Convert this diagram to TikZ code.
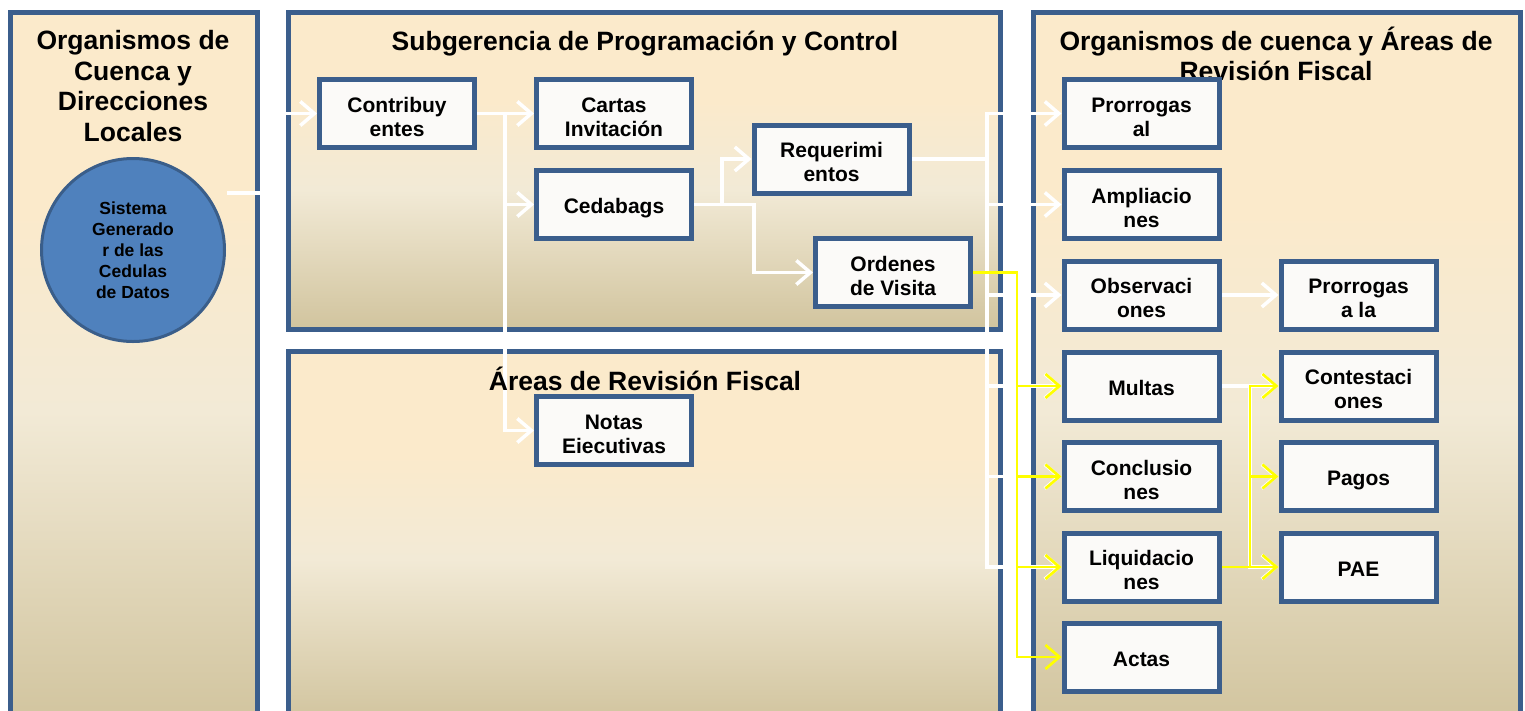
\documentclass[tikz,border=0pt]{standalone}
\usepackage{fontspec}
\setmainfont{Liberation Sans}
\usetikzlibrary{arrows.meta}
\definecolor{bord}{HTML}{3B5E8C}
\definecolor{peachc}{HTML}{FBEACB}
\definecolor{creamc}{HTML}{F2EAD6}
\definecolor{tanc}{HTML}{D1C49E}
\definecolor{boxfill}{HTML}{FBFAF8}
\definecolor{circfill}{HTML}{4F81BD}
\definecolor{circbord}{HTML}{3A5E8A}
\definecolor{yel}{HTML}{FFFF00}
\pgfdeclareverticalshading{parch}{100bp}{color(0bp)=(tanc); color(25bp)=(tanc); color(47bp)=(creamc); color(61bp)=(peachc); color(100bp)=(peachc)}
\pgfdeclarelayer{bg}
\pgfdeclarelayer{conn}
\pgfsetlayers{bg,conn,main}
\newcommand{\bxs}{\rule[-1.5pt]{0pt}{24.5pt}}
\newcommand{\bxd}{\rule[-4pt]{0pt}{4pt}}
\begin{document}
\begin{tikzpicture}[x=1pt,y=-1pt,
  panel/.style={draw=bord,line width=5pt,shading=parch},
  ttl/.style={align=center,inner sep=0pt,font=\bfseries\fontsize{26.5}{30.5}\selectfont},
  bx/.style={draw=bord,line width=5pt,fill=boxfill,minimum width=155pt,minimum height=68pt,inner sep=0pt,align=center,
    font=\bfseries\fontsize{21}{24}\selectfont, execute at end node=\bxs},
  warrow/.style={draw=white,line width=3.5pt,-{Straight Barb[length=14pt,width=24pt]}},
  yarrow/.style={draw=yel,line width=2.7pt,-{Straight Barb[length=14pt,width=24pt]}}]
\useasboundingbox (0,0) rectangle (1525,710);
\begin{pgfonlayer}{bg}
  \fill[white] (0,0) rectangle (1525,710);
  \path[panel] (10,12) rectangle (257,725);
  \path[panel] (288.5,12) rectangle (1000.5,329);
  \path[panel] (288.5,351) rectangle (1000.5,722);
  \path[panel] (1033,12) rectangle (1520,725);
\end{pgfonlayer}

% titles
\node[ttl] (tl) at (133,86) {Organismos de\\Cuenca y\\Direcciones\\Locales};
\node[ttl,anchor=base] (tm) at (645,50.5) {Subgerencia de Programación y Control};
\node[ttl,anchor=base] (tb) at (645,390) {Áreas de Revisión Fiscal};
\node[ttl] (tr) at (1276,54) {Organismos de cuenca y Áreas de\\Revisión Fiscal};

% circle
\node[circle,draw=circbord,line width=3pt,fill=circfill,minimum size=183pt,inner sep=0pt,align=center,
  font=\bfseries\fontsize{17.5}{21}\selectfont] (sg) at (133,250) {Sistema\\Generado\\r de las\\Cedulas\\de Datos};
\coordinate (sgout) at (227,193);

% boxes
\node[bx] (con) at (397,113.5) {\bxs Contribuy\\entes};
\node[bx] (car) at (614,113.5) {\bxs Cartas\\Invitación};
\node[bx] (ced) at (614,204.5) {\bxs\bxd Cedabags};
\node[bx] (req) at (831.5,159) {\bxs Requerimi\\entos};
\node[bx] (ord) at (893,272.5) {\bxs Ordenes\\de Visita};
\node[bx] (not) at (614,430.5) {\bxs Notas\\Eiecutivas};

\node[bx] (pro) at (1141.5,113.5) {\bxs Prorrogas\\al};
\node[bx] (amp) at (1141.5,204.5) {\bxs Ampliacio\\nes};
\node[bx] (obs) at (1141.5,295) {\bxs Observaci\\ones};
\node[bx] (mul) at (1141.5,386) {\bxs\bxd Multas};
\node[bx] (clu) at (1141.5,476.5) {\bxs Conclusio\\nes};
\node[bx] (liq) at (1141.5,567) {\bxs Liquidacio\\nes};
\node[bx] (act) at (1141.5,657) {\bxs\bxd Actas};

\node[bx] (pra) at (1358.5,295) {\bxs Prorrogas\\a la};
\node[bx] (cot) at (1358.5,386) {\bxs Contestaci\\ones};
\node[bx] (pag) at (1358.5,476.5) {\bxs\bxd Pagos};
\node[bx] (pae) at (1358.5,567) {\bxs\bxd PAE};

\begin{pgfonlayer}{conn}
  \draw[warrow] (sgout) -- ++(45,0) |- (con.west);
  \foreach \t in {car,ced,not} \draw[warrow] (con.east) -- ++(28,0) |- (\t.west);
  \draw[warrow] (ced.east) -- ++(28,0) |- (req.west);
  \draw[warrow] (ced.east) -- ++(60,0) |- (ord.west);
  \foreach \t in {pro,amp,obs,mul,clu,liq} \draw[warrow] (req.east) -- ++(75.5,0) |- (\t.west);
  \draw[warrow] (obs.east) -- (pra.west);
  \foreach \t in {cot,pag,pae} \draw[warrow] (mul.east) -- ++(28.5,0) |- (\t.west);
  \foreach \t in {mul,clu,liq,act} \draw[yarrow] (ord.east) -- ++(44,0) |- (\t.west);
  \foreach \t in {cot,pag,pae} \draw[yarrow] (liq.east) -- ++(28.5,0) |- (\t.west);
\end{pgfonlayer}
\end{tikzpicture}
\end{document}
